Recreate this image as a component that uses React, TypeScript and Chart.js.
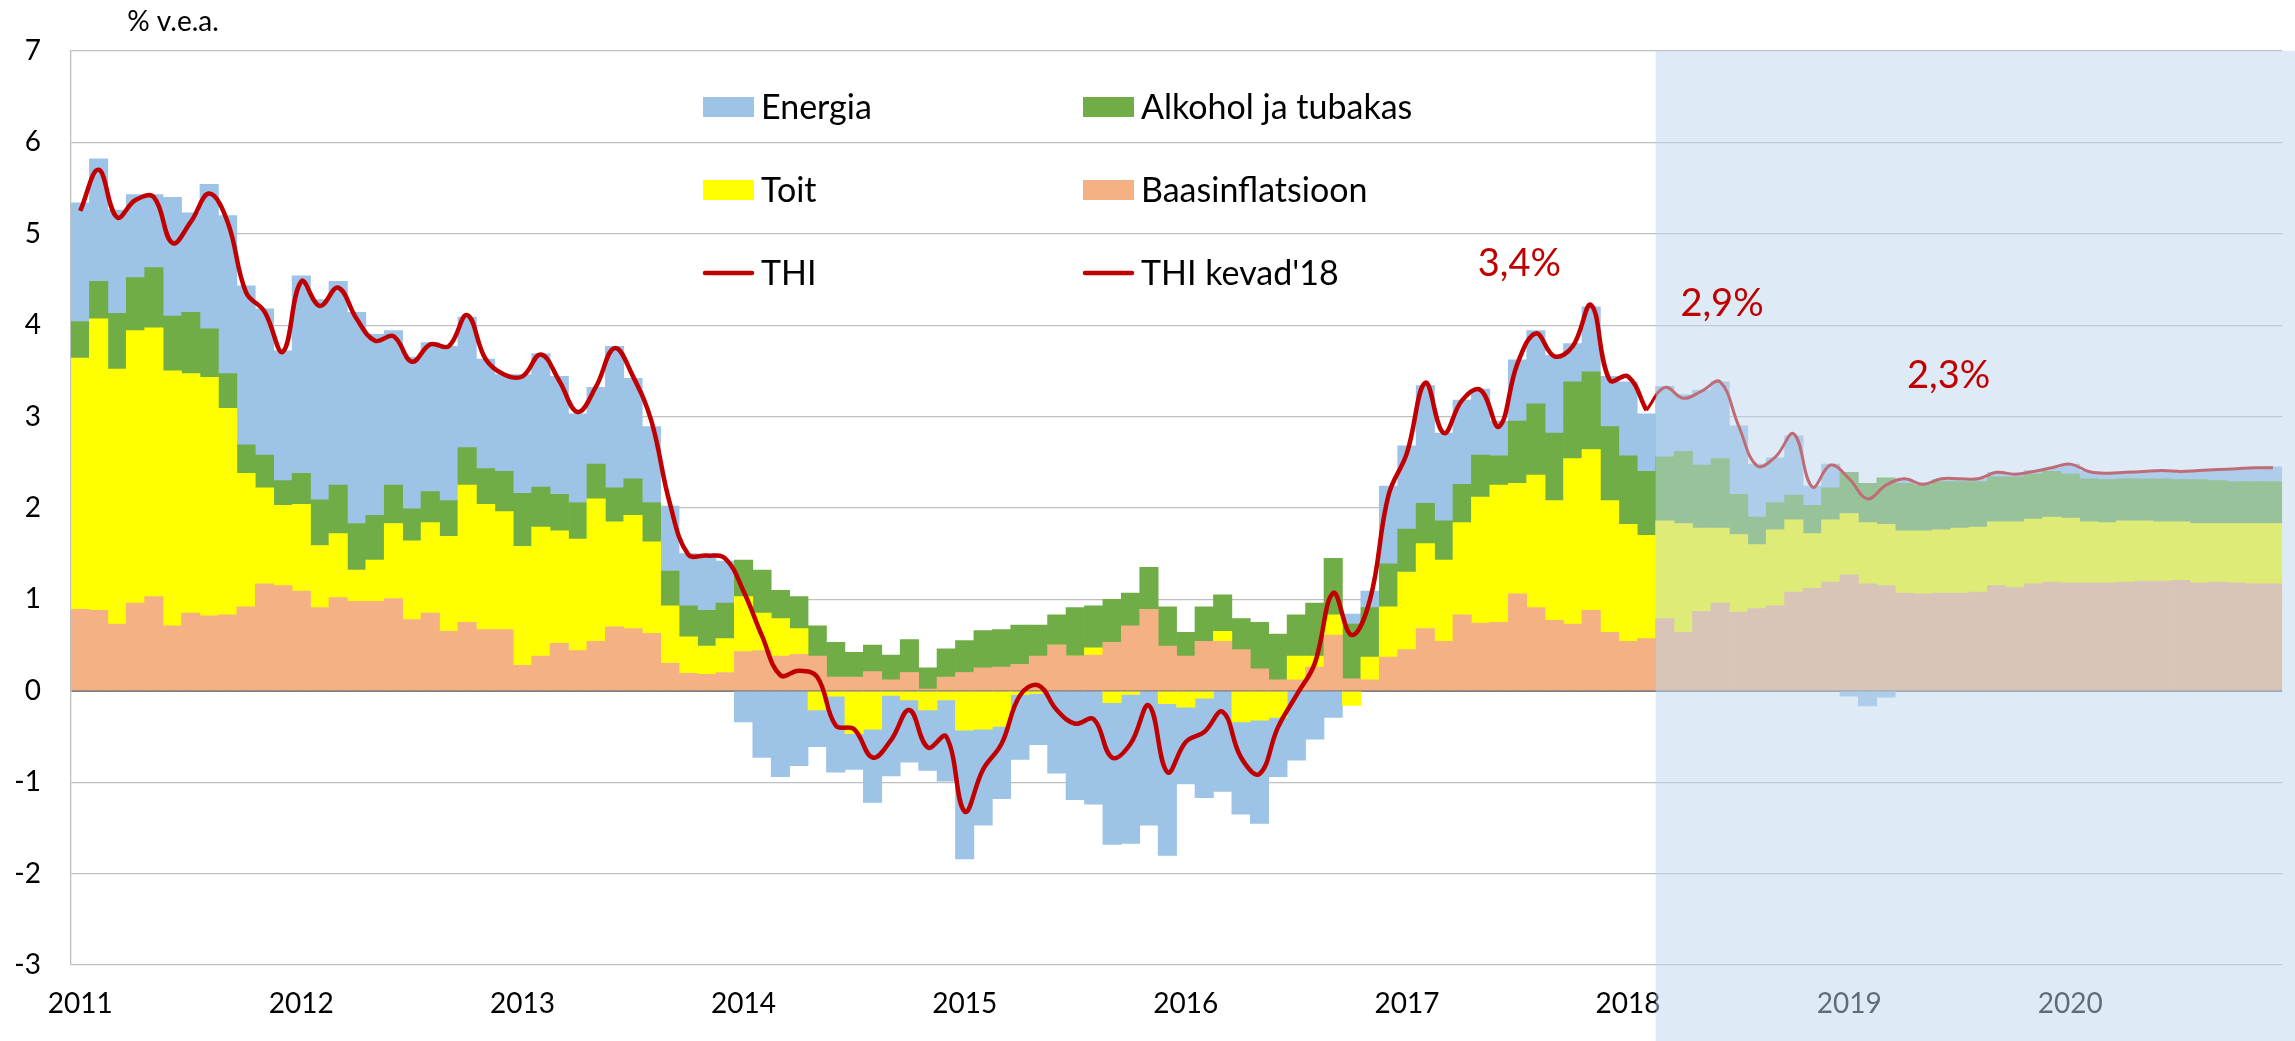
import React, { useEffect, useRef } from 'react';
import { Chart, registerables } from 'chart.js';

Chart.register(...registerables);

const YEARS = ['2011', '2012', '2013', '2014', '2015', '2016', '2017', '2018', '2019', '2020'];
const MONTHS = ['01', '02', '03', '04', '05', '06', '07', '08', '09', '10', '11', '12'];
const CATEGORIES: string[] = [];
YEARS.forEach((y) => MONTHS.forEach((m) => CATEGORIES.push(`${y}-${m}`)));

const BAAS = [
  0.89, 0.88, 0.73, 0.96, 1.03, 0.71, 0.85, 0.82, 0.83, 0.92, 1.17, 1.15,
  1.09, 0.91, 1.02, 0.98, 0.98, 1.01, 0.78, 0.85, 0.65, 0.75, 0.67, 0.67,
  0.28, 0.38, 0.52, 0.44, 0.54, 0.70, 0.68, 0.63, 0.30, 0.19, 0.18, 0.20,
  0.43, 0.44, 0.38, 0.40, 0.38, 0.15, 0.15, 0.21, 0.12, 0.20, 0.02, 0.15,
  0.20, 0.25, 0.26, 0.29, 0.38, 0.50, 0.38, 0.39, 0.53, 0.71, 0.89, 0.49,
  0.38, 0.54, 0.54, 0.45, 0.24, 0.12, 0.12, 0.26, 0.61, 0.13, 0.12, 0.37,
  0.45, 0.68, 0.54, 0.83, 0.74, 0.75, 1.06, 0.91, 0.77, 0.73, 0.88, 0.64,
  0.54, 0.57, 0.79, 0.64, 0.87, 0.96, 0.86, 0.90, 0.93, 1.08, 1.12, 1.19,
  1.27, 1.17, 1.15, 1.07, 1.06, 1.07, 1.07, 1.08, 1.15, 1.13, 1.17, 1.19,
  1.18, 1.18, 1.18, 1.19, 1.20, 1.20, 1.21, 1.18, 1.19, 1.18, 1.17, 1.17,
];

const TOIT = [
  2.75, 3.19, 2.79, 2.98, 2.94, 2.79, 2.62, 2.61, 2.26, 1.46, 1.05, 0.88,
  0.95, 0.68, 0.70, 0.34, 0.45, 0.82, 0.86, 0.99, 1.04, 1.50, 1.37, 1.29,
  1.30, 1.41, 1.23, 1.22, 1.56, 1.15, 1.24, 1.00, 0.63, 0.40, 0.31, 0.37,
  0.60, 0.41, 0.41, 0.28, -0.21, -0.06, -0.47, -0.42, -0.05, -0.10, -0.21, -0.10,
  -0.43, -0.42, -0.39, -0.04, -0.03, 0, 0, 0.08, -0.13, -0.04, 0, -0.14,
  -0.18, -0.08, 0.11, -0.34, -0.32, -0.29, 0.26, 0.12, 0.22, -0.16, 0.25, 0.55,
  0.85, 0.93, 0.89, 1.01, 1.38, 1.50, 1.21, 1.45, 1.31, 1.81, 1.76, 1.44,
  1.28, 1.13, 1.07, 1.19, 0.91, 0.82, 0.85, 0.70, 0.83, 0.79, 0.60, 0.68,
  0.67, 0.67, 0.67, 0.68, 0.69, 0.69, 0.71, 0.71, 0.70, 0.72, 0.71, 0.71,
  0.71, 0.67, 0.66, 0.67, 0.66, 0.65, 0.64, 0.65, 0.64, 0.65, 0.66, 0.66,
];

const ALKOHOL = [
  0.40, 0.41, 0.61, 0.58, 0.66, 0.60, 0.67, 0.53, 0.38, 0.31, 0.36, 0.27,
  0.34, 0.50, 0.53, 0.51, 0.49, 0.42, 0.35, 0.34, 0.39, 0.41, 0.39, 0.44,
  0.58, 0.44, 0.40, 0.40, 0.38, 0.37, 0.40, 0.43, 0.38, 0.34, 0.39, 0.39,
  0.40, 0.47, 0.31, 0.35, 0.33, 0.38, 0.27, 0.29, 0.27, 0.36, 0.23, 0.31,
  0.35, 0.41, 0.41, 0.43, 0.34, 0.33, 0.53, 0.46, 0.47, 0.36, 0.46, 0.43,
  0.26, 0.38, 0.40, 0.34, 0.51, 0.50, 0.45, 0.58, 0.62, 0.60, 0.54, 0.47,
  0.47, 0.44, 0.43, 0.42, 0.46, 0.32, 0.68, 0.78, 0.74, 0.84, 0.85, 0.81,
  0.75, 0.70, 0.70, 0.79, 0.69, 0.76, 0.44, 0.30, 0.30, 0.27, 0.31, 0.35,
  0.45, 0.43, 0.51, 0.52, 0.50, 0.53, 0.51, 0.50, 0.49, 0.49, 0.49, 0.50,
  0.48, 0.47, 0.47, 0.46, 0.46, 0.47, 0.46, 0.48, 0.47, 0.46, 0.46, 0.46,
];

const ENERGIA = [
  1.30, 1.34, 1.13, 0.91, 0.80, 1.30, 1.09, 1.58, 1.73, 1.74, 1.60, 1.42,
  2.16, 2.19, 2.23, 2.31, 1.98, 1.69, 1.66, 1.63, 1.69, 1.43, 1.20, 1.06,
  1.30, 1.46, 1.29, 0.97, 0.84, 1.55, 1.10, 0.83, 0.71, 0.57, 0.60, 0.46,
  -0.34, -0.73, -0.94, -0.82, -0.40, -0.83, -0.39, -0.80, -0.88, -0.68, -0.66, -0.89,
  -1.41, -1.05, -0.79, -0.71, -0.56, -0.90, -1.19, -1.24, -1.55, -1.63, -1.47, -1.66,
  -0.84, -1.09, -1.10, -1.01, -1.13, -0.65, -0.76, -0.53, -0.29, 0.11, 0.18, 0.85,
  0.91, 1.29, 0.96, 0.92, 0.72, 0.38, 0.67, 0.80, 0.85, 0.42, 0.71, 0.55,
  0.81, 0.63, 0.77, 0.62, 0.82, 0.84, 0.75, 0.58, 0.49, 0.65, 0.21, 0.26,
  -0.06, -0.165, -0.07, 0.03, 0.01, 0.02, 0.03, 0.03, 0.05, 0.03, 0.04, 0.04,
  0.11, 0.08, 0.07, 0.07, 0.08, 0.09, 0.10, 0.09, 0.12, 0.14, 0.15, 0.16,
];

// THI actual: months 0..85
const THI = [
  5.25, 5.70, 5.18, 5.37, 5.40, 4.90, 5.13, 5.44, 5.13, 4.36, 4.15, 3.71,
  4.48, 4.21, 4.41, 4.07, 3.83, 3.88, 3.60, 3.79, 3.77, 4.11, 3.63, 3.46,
  3.44, 3.68, 3.39, 3.05, 3.33, 3.75, 3.44, 2.95, 2.05, 1.49, 1.48, 1.45,
  1.09, 0.60, 0.17, 0.22, 0.15, -0.38, -0.42, -0.73, -0.54, -0.21, -0.62, -0.50,
  -1.32, -0.86, -0.58, -0.05, 0.06, -0.21, -0.36, -0.31, -0.73, -0.58, -0.16, -0.89,
  -0.56, -0.45, -0.23, -0.73, -0.91, -0.40, -0.05, 0.30, 1.07, 0.61, 1.00, 2.14,
  2.60, 3.37, 2.82, 3.18, 3.29, 2.89, 3.58, 3.91, 3.66, 3.77, 4.22, 3.40,
  3.44, 3.07,
];

// THI spring 2018 forecast: months 85..119
const THI_KEVAD_START = 85;
const THI_KEVAD = [
  3.07, 3.32, 3.20, 3.28, 3.38, 2.90, 2.46, 2.56, 2.81, 2.23, 2.47,
  2.32, 2.10, 2.25, 2.32, 2.26, 2.32, 2.32, 2.32, 2.39, 2.37, 2.40, 2.44,
  2.48, 2.40, 2.38, 2.39, 2.40, 2.41, 2.40, 2.41, 2.42, 2.43, 2.44, 2.44,
];

const FORECAST_START = 86;

const ANNOTATIONS = [
  { text: '3,4%', month: 78.1, value: 4.67 },
  { text: '2,9%', month: 89.1, value: 4.24 },
  { text: '2,3%', month: 101.4, value: 3.45 },
];

const COLORS = {
  energia: '#9DC3E6',
  alkohol: '#70AD47',
  toit: '#FFFF00',
  baas: '#F4B183',
  thi: '#C00000',
};

const FONT = 'Lato, "Open Sans", sans-serif';

export default function App() {
  const canvasRef = useRef<HTMLCanvasElement | null>(null);

  useEffect(() => {
    const canvas = canvasRef.current;
    if (!canvas) return;

    const thiData = CATEGORIES.map((_, i) => (i < THI.length ? THI[i] : null));
    const kevadData = CATEGORIES.map((_, i) =>
      i >= THI_KEVAD_START && i - THI_KEVAD_START < THI_KEVAD.length ? THI_KEVAD[i - THI_KEVAD_START] : null
    );

    const legendItems = [
      { label: 'Energia', color: COLORS.energia, kind: 'bar' },
      { label: 'Alkohol ja tubakas', color: COLORS.alkohol, kind: 'bar' },
      { label: 'Toit', color: COLORS.toit, kind: 'bar' },
      { label: 'Baasinflatsioon', color: COLORS.baas, kind: 'bar' },
      { label: 'THI', color: COLORS.thi, kind: 'line' },
      { label: "THI kevad'18", color: COLORS.thi, kind: 'line' },
    ];

    const overlayPlugin = {
      id: 'overlayPlugin',
      afterDraw(chart: any) {
        const { ctx, chartArea, width, height } = chart;
        const xs = chart.scales.x;
        const ys = chart.scales.y;
        ctx.save();
        // forecast shading
        const left = (xs.getPixelForValue(FORECAST_START - 1) + xs.getPixelForValue(FORECAST_START)) / 2;
        ctx.fillStyle = 'rgba(189, 215, 238, 0.5)';
        ctx.fillRect(left, chartArea.top, width - left, height - chartArea.top);

        // axis title
        ctx.fillStyle = '#000';
        ctx.font = `28px ${FONT}`;
        ctx.textAlign = 'center';
        ctx.textBaseline = 'middle';
        ctx.fillText('% v.e.a.', 173, 22);

        // legend
        const colX = [703, 1083];
        const rowY = [107, 190, 273];
        legendItems.forEach((it, idx) => {
          const cx = colX[idx % 2];
          const cy = rowY[Math.floor(idx / 2)];
          if (it.kind === 'bar') {
            ctx.fillStyle = it.color;
            ctx.fillRect(cx, cy - 10, 51, 20);
          } else {
            ctx.strokeStyle = it.color;
            ctx.lineWidth = 4.5;
            ctx.lineCap = 'round';
            ctx.beginPath();
            ctx.moveTo(cx + 2, cy);
            ctx.lineTo(cx + 49, cy);
            ctx.stroke();
          }
          ctx.fillStyle = '#000';
          ctx.font = `34px ${FONT}`;
          ctx.textAlign = 'left';
          ctx.textBaseline = 'middle';
          ctx.fillText(it.label, cx + 58, cy + 1);
        });

        // annotations
        ctx.fillStyle = COLORS.thi;
        ctx.font = `38px ${FONT}`;
        ctx.textAlign = 'center';
        ctx.textBaseline = 'middle';
        ANNOTATIONS.forEach((a) => {
          ctx.fillText(a.text, xs.getPixelForValue(a.month), ys.getPixelForValue(a.value));
        });
        ctx.restore();
      },
    };

    const barCommon = {
      type: 'bar' as const,
      barPercentage: 1,
      categoryPercentage: 1,
      borderWidth: 0,
      stack: 'bars',
      order: 1,
    };

    const chart = new Chart(canvas, {
      type: 'bar',
      data: {
        labels: CATEGORIES,
        datasets: [
          { ...barCommon, label: 'Baasinflatsioon', data: BAAS, backgroundColor: COLORS.baas },
          { ...barCommon, label: 'Toit', data: TOIT, backgroundColor: COLORS.toit },
          { ...barCommon, label: 'Alkohol ja tubakas', data: ALKOHOL, backgroundColor: COLORS.alkohol },
          { ...barCommon, label: 'Energia', data: ENERGIA, backgroundColor: COLORS.energia },
          {
            type: 'line' as const,
            label: 'THI',
            data: thiData,
            borderColor: COLORS.thi,
            backgroundColor: COLORS.thi,
            borderWidth: 4.5,
            pointRadius: 0,
            tension: 0.4,
            fill: false,
            stack: 'thi',
            order: 0,
          } as any,
          {
            type: 'line' as const,
            label: "THI kevad'18",
            data: kevadData,
            borderColor: COLORS.thi,
            backgroundColor: COLORS.thi,
            borderWidth: 3,
            pointRadius: 0,
            tension: 0.4,
            fill: false,
            stack: 'kevad',
            order: 0,
          } as any,
        ],
      },
      options: {
        responsive: false,
        animation: false,
        devicePixelRatio: 1,
        layout: { padding: { top: 51, right: 9, left: 0, bottom: 0 } },
        plugins: {
          legend: { display: false },
          tooltip: { enabled: false },
        },
        scales: {
          x: {
            stacked: true,
            offset: true,
            grid: { display: false, drawTicks: false },
            border: { display: false },
            ticks: {
              autoSkip: false,
              maxRotation: 0,
              minRotation: 0,
              padding: 22,
              color: '#000',
              font: { family: FONT, size: 28 },
              callback: (_v: any, i: number) => (i % 12 === 0 ? CATEGORIES[i].slice(0, 4) : ''),
            },
            afterFit: (scale: any) => {
              scale.height = 76;
            },
          },
          y: {
            stacked: true,
            min: -3,
            max: 7,
            ticks: {
              stepSize: 1,
              padding: 30,
              color: '#000',
              font: { family: FONT, size: 28 },
            },
            grid: {
              drawTicks: false,
              lineWidth: (c: any) => (c.tick && c.tick.value === 0 ? 2 : 1.3),
              color: (c: any) => (c.tick && c.tick.value === 0 ? '#7F7F7F' : '#BFBFBF'),
            },
            border: { display: true, color: '#BFBFBF', width: 1.3 },
            afterFit: (scale: any) => {
              scale.width = 71;
            },
          },
        },
      },
      plugins: [overlayPlugin],
    } as any);

    return () => {
      chart.destroy();
    };
  }, []);

  return (
    <div style={{ position: 'absolute', left: 0, top: 0, width: 2295, height: 1041, background: '#fff' }}>
      <canvas ref={canvasRef} width={2295} height={1041} style={{ display: 'block' }} />
    </div>
  );
}
